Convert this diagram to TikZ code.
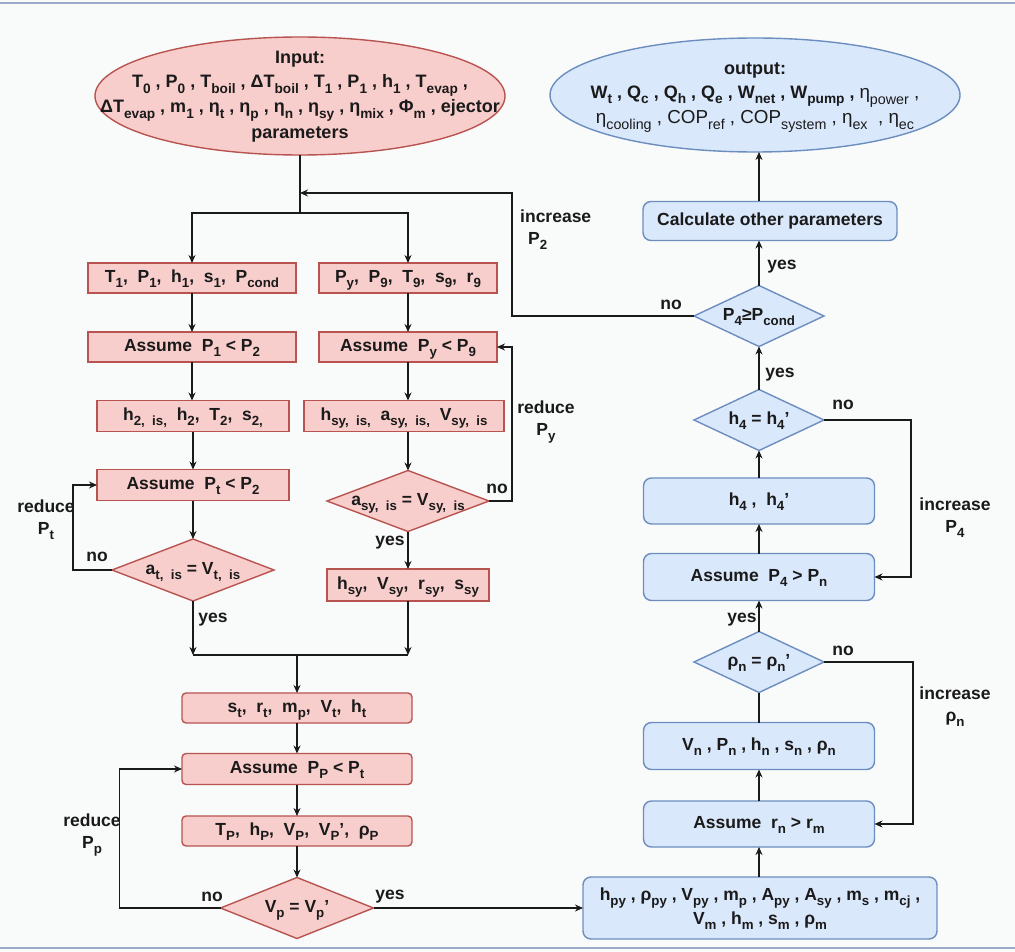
\documentclass[tikz,border=0pt]{standalone}
\usepackage{fontspec}
\setmainfont{Liberation Sans}
\usepackage{graphicx}
\usetikzlibrary{shapes.geometric,arrows.meta}
\definecolor{pkf}{HTML}{F8CECC}
\definecolor{pkd}{HTML}{B85450}
\definecolor{blf}{HTML}{DAE8FC}
\definecolor{bld}{HTML}{6C8EBF}
\definecolor{bgc}{HTML}{F9FAFA}
\definecolor{frm}{HTML}{9DAAC8}
\definecolor{txt}{HTML}{1A1A1A}
\newcommand\sbb[1]{\raisebox{-0.3em}{\scalebox{0.76}{#1}}}
\newcommand\ctext[1]{\makebox[0pt]{\smash{\raisebox{-0.25em}{\begin{tabular}{@{}c@{}}#1\end{tabular}}}}}
\newcommand\medtxt{\fontsize{18.8}{24}\selectfont\mdseries}
\tikzset{
  base/.style={inner sep=0pt, outer sep=0pt, line width=1.4pt, font=\fontsize{17.5}{23}\selectfont\bfseries, text=txt},
  ellfont/.style={font=\fontsize{18}{24}\selectfont\bfseries},
  pbox/.style={base, rectangle, draw=pkd, fill=pkf},
  pround/.style={pbox, rounded corners=4pt},
  bbox/.style={base, rectangle, rounded corners=8pt, draw=bld, fill=blf},
  pdia/.style={base, diamond, draw=pkd, fill=pkf},
  bdia/.style={base, diamond, draw=bld, fill=blf},
  arr/.style={-{Stealth[length=8pt,width=7pt]}, line width=1.4pt, draw=txt},
  ln/.style={line width=1.4pt, draw=txt},
  lbl/.style={font=\fontsize{17.5}{22}\selectfont\bfseries, text=txt, align=center, inner sep=0pt},
}
\begin{document}
\begin{tikzpicture}[x=1pt,y=-1pt]
\useasboundingbox (0,0) rectangle (1015,952);
\fill[bgc] (0,0) rectangle (1015,952);
\draw[frm, line width=2pt] (0,3) -- (1015,3);
\draw[frm, line width=2pt] (0,948) -- (1015,948);

% ellipses
\node[base, ellfont, ellipse, draw=pkd, fill=pkf, minimum width=410, minimum height=118] (in) at (300,96)
 {\ctext{Input:\\
 T\sbb{0} , P\sbb{0} , T\sbb{boil} , ΔT\sbb{boil} , T\sbb{1} , P\sbb{1} , h\sbb{1} , T\sbb{evap} ,\\
 ΔT\sbb{evap} , m\sbb{1} , η\sbb{t} , η\sbb{p} , η\sbb{n} , η\sbb{sy} , η\sbb{mix} , Φ\sbb{m} , ejector\\
 parameters}};
\node[base, ellfont, ellipse, draw=bld, fill=blf, minimum width=410, minimum height=114] (out) at (755,95)
 {\ctext{output:\\
 W\sbb{t} , Q\sbb{c} , Q\sbb{h} , Q\sbb{e} , W\sbb{net} , W\sbb{pump} , {\medtxt η\sbb{power} ,}\\
 {\medtxt η\sbb{cooling} , COP\sbb{ref} , COP\sbb{system} , η\sbb{ex}~ , η\sbb{ec}}}};

% left column
\node[pbox, minimum width=208, minimum height=30] (L1) at (192,278) {\ctext{T\sbb{1},~ P\sbb{1},~ h\sbb{1},~ s\sbb{1},~ P\sbb{cond}}};
\node[pbox, minimum width=208, minimum height=30] (L2) at (192,347) {\ctext{Assume~ P\sbb{1} < P\sbb{2}}};
\node[pbox, minimum width=192, minimum height=31] (L3) at (193,416) {\ctext{h\sbb{2,~ is,}~ h\sbb{2},~ T\sbb{2},~ s\sbb{2,}}};
\node[pbox, minimum width=192, minimum height=31] (L4) at (193,485) {\ctext{Assume~ P\sbb{t} < P\sbb{2}}};
\node[pdia, minimum width=162, minimum height=62] (LD) at (193,570) {\ctext{a\sbb{t,~ is} = V\sbb{t,~ is}}};

% middle column
\node[pbox, minimum width=178, minimum height=30] (M1) at (408,278) {\ctext{P\sbb{y},~ P\sbb{9},~ T\sbb{9},~ s\sbb{9},~ r\sbb{9}}};
\node[pbox, minimum width=178, minimum height=30] (M2) at (408,347) {\ctext{Assume~ P\sbb{y} < P\sbb{9}}};
\node[pbox, minimum width=200, minimum height=31] (M3) at (404,416) {\ctext{h\sbb{sy,~ is,}~ a\sbb{sy,~ is,}~ V\sbb{sy,~ is}}};
\node[pdia, minimum width=162, minimum height=61] (MD) at (408,501) {\ctext{a\sbb{sy,~ is} = V\sbb{sy,~ is}}};
\node[pbox, minimum width=162, minimum height=32] (M4) at (408,585) {\ctext{h\sbb{sy},~ V\sbb{sy},~ r\sbb{sy},~ s\sbb{sy}}};

% bottom-left column
\node[pround, minimum width=230, minimum height=30] (B1) at (297,708) {\ctext{s\sbb{t},~ r\sbb{t},~ m\sbb{p},~ V\sbb{t},~ h\sbb{t}}};
\node[pround, minimum width=230, minimum height=31] (B2) at (297,769) {\ctext{Assume~ P\sbb{P} < P\sbb{t}}};
\node[pround, minimum width=230, minimum height=30] (B3) at (297,831) {\ctext{T\sbb{P},~ h\sbb{P},~ V\sbb{P},~ V\sbb{P}',~ ρ\sbb{P}}};
\node[pdia, minimum width=153, minimum height=61] (BD) at (297,908) {\ctext{V\sbb{p} = V\sbb{p}'}};

% right column
\node[bbox, minimum width=354, minimum height=62] (R0) at (760,908)
 {\ctext{h\sbb{py} , ρ\sbb{py} , V\sbb{py} , m\sbb{p} , A\sbb{py} , A\sbb{sy} , m\sbb{s} , m\sbb{cj} ,\\ V\sbb{m} , h\sbb{m} , s\sbb{m} , ρ\sbb{m}}};
\node[bbox, minimum width=231, minimum height=46] (R1) at (759,824) {\ctext{Assume~ r\sbb{n} > r\sbb{m}}};
\node[bbox, minimum width=231, minimum height=47] (R2) at (759,746) {\ctext{V\sbb{n} , P\sbb{n} , h\sbb{n} , s\sbb{n} , ρ\sbb{n}}};
\node[bdia, minimum width=130, minimum height=61] (RD1) at (759,662) {\ctext{ρ\sbb{n} = ρ\sbb{n}'}};
\node[bbox, minimum width=231, minimum height=47] (R3) at (759,577) {\ctext{Assume~ P\sbb{4} > P\sbb{n}}};
\node[bbox, minimum width=231, minimum height=46] (R4) at (759,501) {\ctext{h\sbb{4} ,~ h\sbb{4}'}};
\node[bdia, minimum width=130, minimum height=61] (RD2) at (759,420) {\ctext{h\sbb{4} = h\sbb{4}'}};
\node[bdia, minimum width=130, minimum height=61] (RD3) at (759,316) {\ctext{P\sbb{4}≥P\sbb{cond}}};
\node[bbox, minimum width=254, minimum height=39] (R5) at (770,221) {\ctext{Calculate other parameters}};

% connectors: top split
\coordinate (s1) at (300,213);
\coordinate (s2) at (300,193);
\draw[ln] (in.south) -- (s1);
\draw[arr] (s1) -| (L1.north);
\draw[arr] (s1) -| (M1.north);

% left column
\draw[arr] (L1) -- (L2);
\draw[arr] (L2) -- (L2.south |- L3.north);
\draw[arr] (L3) -- (L4);
\draw[arr] (L4) -- (LD);
\draw[arr] (LD.west) -- ++(-39,0) |- (L4.west);

% middle column
\draw[arr] (M1) -- (M2);
\draw[arr] (M2.south) -- (M2.south |- M3.north);
\draw[arr] (M2.south |- M3.south) -- (MD.north);
\draw[arr] (MD) -- (M4);
\draw[arr] (MD.east) -- ++(23,0) |- (M2.east);

% merge
\coordinate (j) at (297,655);
\draw[arr] (LD.south) -- (LD.south |- j);
\draw[arr] (M4.south) -- (M4.south |- j);
\draw[ln] (LD.south |- j) -- (M4.south |- j);
\draw[arr] (j) -- (B1.north);

% bottom-left
\draw[arr] (B1) -- (B2);
\draw[arr] (B2) -- (B3);
\draw[arr] (B3) -- (BD);
\draw[arr] (BD.west) -- ++(-101,0) |- (B2.west);
\draw[arr] (BD.east) -- (R0.west |- BD.east);

% right column
\draw[arr] (R1.south |- R0.north) -- (R1.south);
\draw[arr] (R1) -- (R2);
\draw[ln] (R2.north) -- (RD1.south);
\draw[arr] (RD1) -- (R3);
\draw[arr] (R3) -- (R4);
\draw[arr] (R4) -- (RD2);
\draw[arr] (RD2) -- (RD3);
\draw[arr] (RD3.north) -- (RD3.north |- R5.south);
\draw[arr] (RD3.north |- R5.north) -- (RD3.north |- out.south);
\draw[arr] (RD2.east) -- ++(87,0) |- (R3.east);
\draw[arr] (RD1.east) -- ++(89,0) |- (R1.east);
\draw[arr] (RD3.west) -- ++(-182,0) |- (s2);

% labels
\node[lbl] (t1) at (46,520) {reduce\\P\sbb{t}};
\node[lbl] (t2) at (97,557) {no};
\node[lbl] (t3) at (213,620) {yes};
\node[lbl] (t4) at (546,422) {reduce\\P\sbb{y}};
\node[lbl] (t5) at (497,489) {no};
\node[lbl] (t6) at (390,543) {yes};
\node[lbl] (t7) at (92,835) {reduce\\P\sbb{p}};
\node[lbl] (t8) at (212,897) {no};
\node[lbl] (t9) at (390,897) {yes};
\node[lbl, align=left, anchor=west] (t10) at (520,230) {increase\\\hspace{8pt}P\sbb{2}};
\node[lbl] (t11) at (671,305) {no};
\node[lbl] (t12) at (782,267) {yes};
\node[lbl] (t13) at (780,375) {yes};
\node[lbl] (t14) at (843,405) {no};
\node[lbl] (t15) at (955,518) {increase\\P\sbb{4}};
\node[lbl] (t16) at (742,620) {yes};
\node[lbl] (t17) at (843,651) {no};
\node[lbl] (t18) at (955,707) {increase\\ρ\sbb{n}};
\end{tikzpicture}
\end{document}
